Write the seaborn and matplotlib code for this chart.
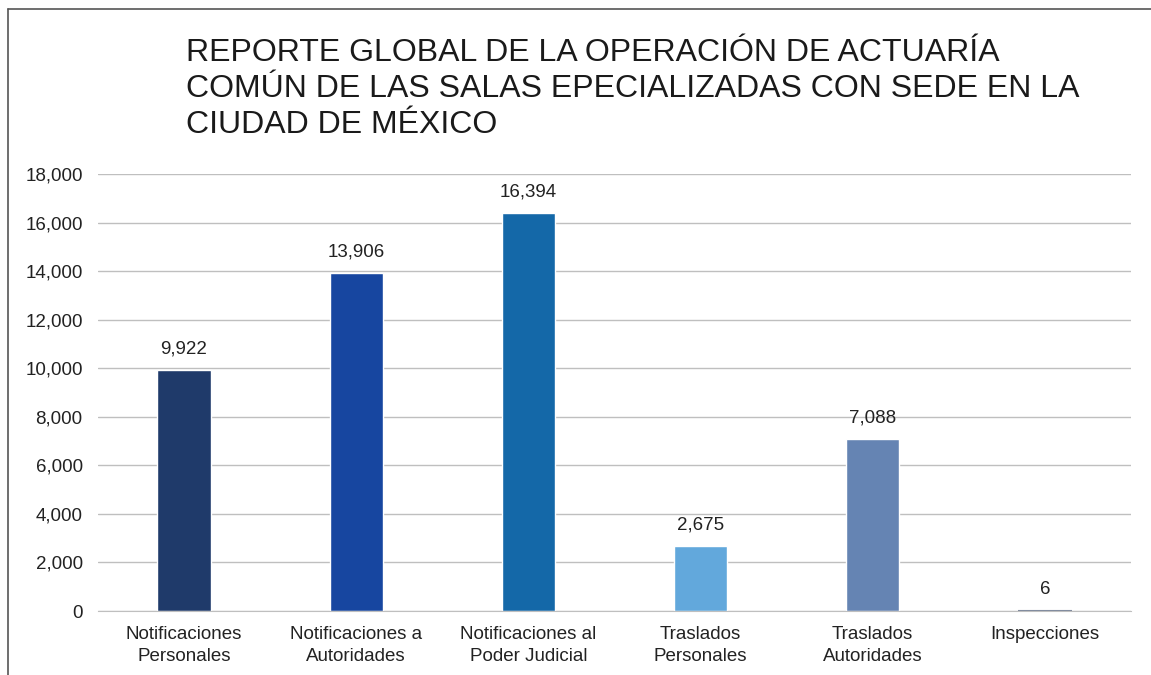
import matplotlib
matplotlib.use('Agg')
import matplotlib.pyplot as plt
import seaborn as sns
import pandas as pd
from matplotlib.lines import Line2D

categorias = ['Notificaciones\nPersonales', 'Notificaciones a\nAutoridades', 'Notificaciones al\nPoder Judicial',
              'Traslados\nPersonales', 'Traslados\nAutoridades', 'Inspecciones']
valores = [9922, 13906, 16394, 2675, 7088, 6]
colores = ['#1F3A6A', '#1746A0', '#1468A8', '#62A8DC', '#6584B3', '#7F8A9E']
titulo = 'REPORTE GLOBAL DE LA OPERACIÓN DE ACTUARÍA\nCOMÚN DE LAS SALAS EPECIALIZADAS CON SEDE EN LA\nCIUDAD DE MÉXICO'

sns.set_style('white')
plt.rcParams['font.family'] = ['Liberation Sans', 'DejaVu Sans']

df = pd.DataFrame({'cat': categorias, 'val': valores})

fig = plt.figure(figsize=(11.51, 6.75), dpi=100)
ax = fig.add_axes([0.0851, 0.0948, 0.8975, 0.6474])

sns.barplot(data=df, x='cat', y='val', hue='cat', palette=colores, width=0.31,
            legend=False, ax=ax, saturation=1)

# la barra de Inspecciones casi no tiene altura, se ve como una linea
ax.patches[-1].set_edgecolor('#7F8A9E')
ax.patches[-1].set_linewidth(1.5)

ax.set_ylim(0, 18000)
ax.set_yticks(range(0, 18001, 2000))
ax.set_yticklabels(['{:,}'.format(v) for v in range(0, 18001, 2000)], fontsize=13.5, color='#222222')
ax.tick_params(axis='x', labelsize=13.5, colors='#222222', length=0, pad=11)
ax.tick_params(axis='y', length=0, pad=11)
for lbl in ax.get_xticklabels():
    lbl.set_linespacing(1.35)
ax.set_xlabel('')
ax.set_ylabel('')
ax.yaxis.grid(True, color='#BFBFBF', linewidth=1)
ax.set_axisbelow(True)
for s in ['top', 'right', 'left']:
    ax.spines[s].set_visible(False)
ax.spines['bottom'].set_color('#BFBFBF')

for c in ax.containers:
    ax.bar_label(c, labels=['{:,}'.format(int(v)) for v in c.datavalues], padding=9,
                 fontsize=13.5, color='#222222')

fig.text(0.1616, 0.803, titulo, fontsize=23, color='#1A1A1A', ha='left', va='baseline',
         linespacing=1.27)

# marco de la figura
fig.add_artist(Line2D([0.007, 1.0], [0.9867, 0.9867], color='#555555', linewidth=1.2))
fig.add_artist(Line2D([0.007, 0.007], [0.0, 0.9867], color='#555555', linewidth=1.2))

plt.savefig('out.png', dpi=100)
